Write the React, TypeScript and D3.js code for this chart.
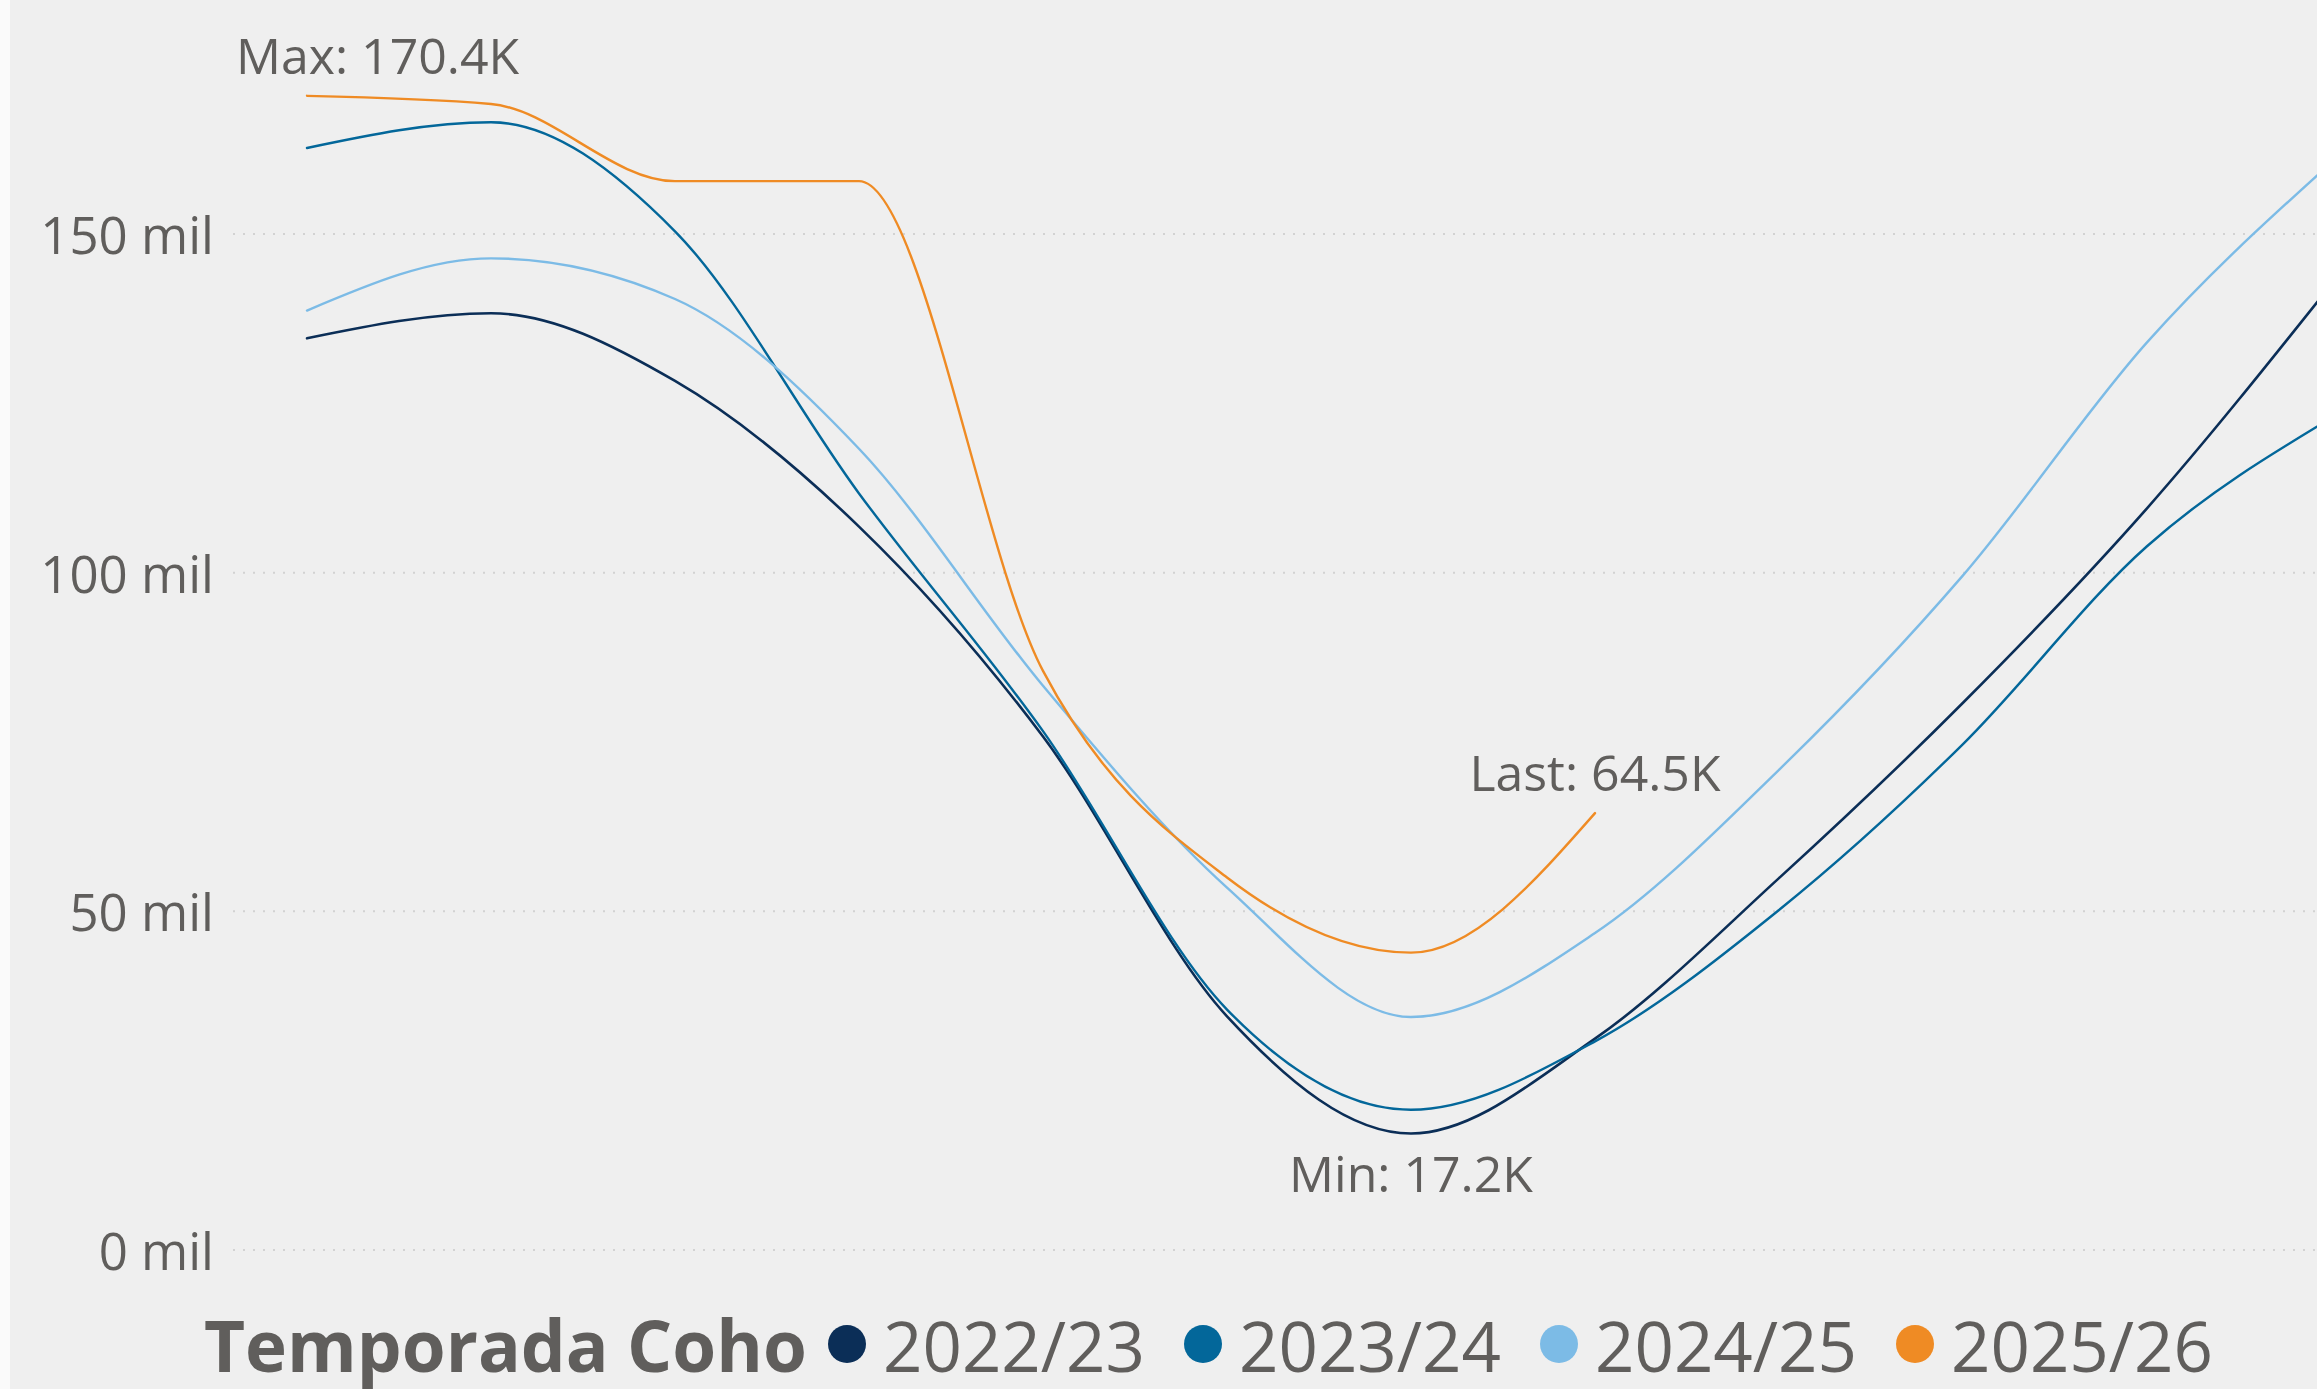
import React from "react";
import * as d3 from "d3";

// ---- data (values in thousands) ----
const months = ["Ago", "Sep", "Oct", "Nov", "Dic", "Ene", "Feb", "Mar", "Abr", "May", "Jun", "Jul"];
const seasons = ["2022/23", "2023/24", "2024/25", "2025/26"];
const s2022 = [134.6, 138.3, 128.3, 106.8, 75.8, 34.5, 17.2, 31.2, 54.9, 80.8, 109.5, 142.5];
const s2023 = [162.7, 166.5, 150.4, 111.7, 76.6, 35.5, 20.7, 30.8, 50.2, 74.7, 103.9, 122.8];
const s2024 = [138.7, 146.4, 140.4, 118.3, 83.3, 53.5, 34.4, 46.8, 70.9, 99.6, 134.0, 160.5];
const s2025 = [170.4, 169.2, 157.8, 157.8, 85.5, 55.0, 43.9, 64.5];
const yTicks = [0, 50, 100, 150];
const tickLabels = ["0 mil", "50 mil", "100 mil", "150 mil"];
const colors = ["#0B2E57", "#03679A", "#7CBBE6", "#EF8B24"];
const legendTitle = "Temporada Coho";

const W = 2317;
const H = 1389;
const FONT = "'Open Sans', 'Noto Sans', sans-serif";
const TEXT = "#605E5C";

export default function App() {
  const seriesValues = [s2022, s2023, s2024, s2025];
  const x = d3.scaleLinear().domain([0, months.length - 1]).range([307, 2331]);
  const y = d3.scaleLinear().domain([0, 150]).range([1250, 234]);
  const line = d3
    .line<number>()
    .x((_, i) => x(i))
    .y((d) => y(d))
    .curve(d3.curveMonotoneX);

  const last = s2025;
  const maxV = d3.max(last) as number;
  const maxI = last.indexOf(maxV);
  const minV = d3.min(s2022) as number;
  const minI = s2022.indexOf(minV);
  const lastI = last.length - 1;
  const fmtK = (v: number) => `${v.toFixed(1)}K`;

  return (
    <div
      style={{
        position: "fixed",
        left: 0,
        top: 0,
        width: W,
        height: H,
        background: "#FAFAFA",
        overflow: "hidden",
      }}
    >
      <svg width={W} height={H} style={{ display: "block", fontFamily: FONT }}>
        <rect x={10} y={0} width={W - 10} height={H} fill="#EFEFEF" />
        <defs>
          <clipPath id="plotClip">
            <rect x={10} y={0} width={W - 10} height={1290} />
          </clipPath>
        </defs>
        {/* gridlines + axis labels */}
        {yTicks.map((t, i) => (
          <g key={t}>
            <line
              x1={233}
              x2={W}
              y1={y(t)}
              y2={y(t)}
              stroke="#D2D2D2"
              strokeWidth={2}
              strokeDasharray="2,8"
            />
            <text
              x={214}
              y={y(t)}
              textAnchor="end"
              dominantBaseline="central"
              fontSize={51}
              fill={TEXT}
            >
              {tickLabels[i]}
            </text>
          </g>
        ))}
        {/* lines */}
        <g clipPath="url(#plotClip)">
          {seriesValues.map((vals, i) => (
            <path
              key={seasons[i]}
              d={line(vals) || ""}
              fill="none"
              stroke={colors[i]}
              strokeWidth={i === 0 ? 2.6 : 2.4}
              strokeLinejoin="round"
              strokeLinecap="round"
            />
          ))}
        </g>
        {/* data labels */}
        <text x={x(maxI) - 71} y={y(maxV) - 22} fontSize={50} fill={TEXT}>
          {`Max: ${fmtK(maxV)}`}
        </text>
        <text x={x(minI)} y={y(minV) + 59} textAnchor="middle" fontSize={50} fill={TEXT}>
          {`Min: ${fmtK(minV)}`}
        </text>
        <text x={x(lastI)} y={y(last[lastI]) - 22} textAnchor="middle" fontSize={50} fill={TEXT}>
          {`Last: ${fmtK(last[lastI])}`}
        </text>
        {/* legend */}
        <text x={204} y={1372} fontSize={71} fontWeight="bold" fill={TEXT}>
          {legendTitle}
        </text>
        {seasons.map((s, i) => (
          <g key={s} transform={`translate(${847 + i * 356},0)`}>
            <circle cx={0} cy={1344} r={19} fill={colors[i]} />
            <text x={36} y={1372} fontSize={69} fill={TEXT}>
              {s}
            </text>
          </g>
        ))}
      </svg>
    </div>
  );
}
